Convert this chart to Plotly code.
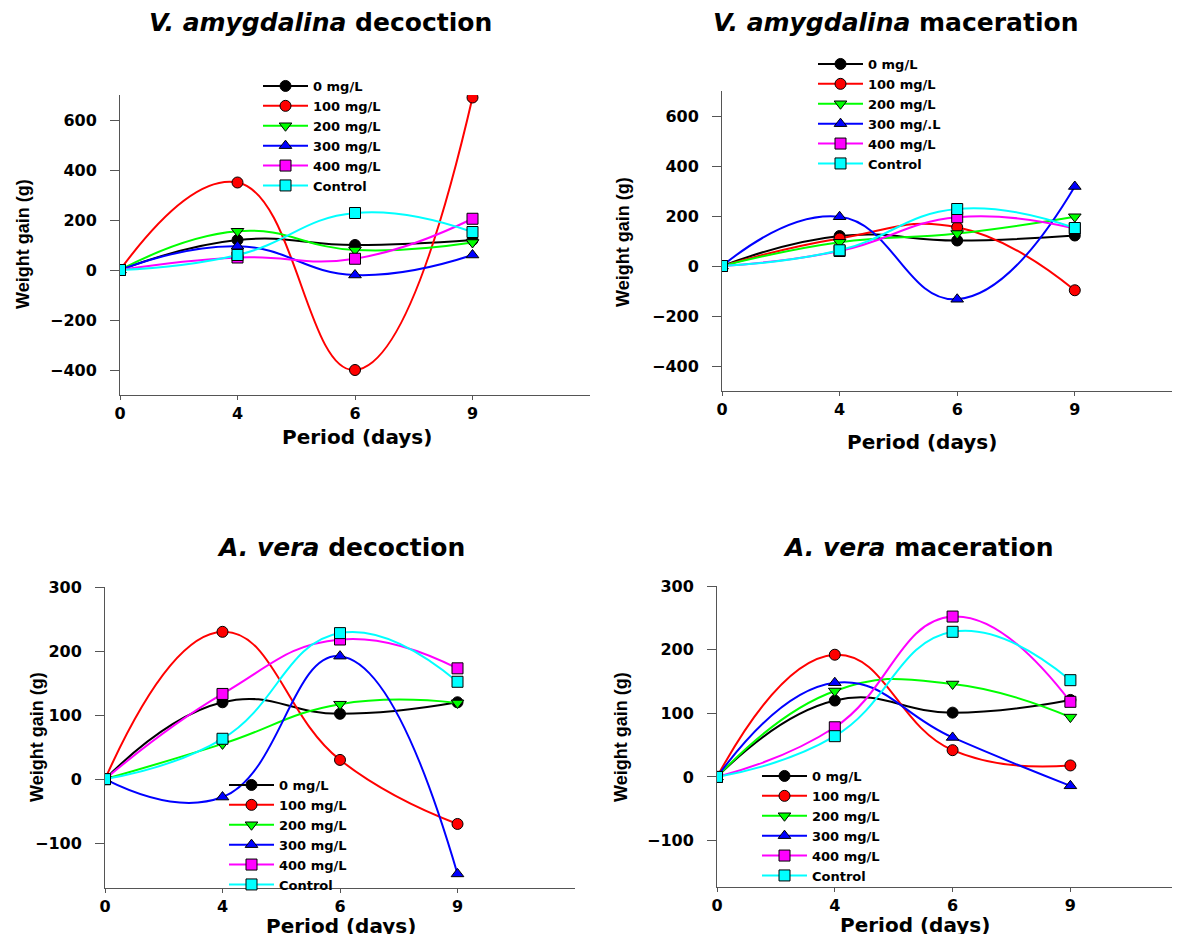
import plotly.graph_objects as go

W, H = 1180, 934
OFF = 8  # default page body margin of the written html

days = ["0", "4", "6", "9"]
series_names = ["0 mg/L", "100 mg/L", "200 mg/L", "300 mg/L", "400 mg/L", "Control"]
series_names_p2 = ["0 mg/L", "100 mg/L", "200 mg/L", "300 mg/.L", "400 mg/L", "Control"]
colors = ["#000000", "#FF0000", "#00FF00", "#0000FF", "#FF00FF", "#00FFFF"]
symbols = ["circle", "circle", "triangle-down", "triangle-up", "square", "square"]

# Panel 1: V. amygdalina decoction
va_dec = [
    [0, 120, 100, 120],
    [0, 350, -400, 690],
    [0, 155, 80, 110],
    [0, 95, -20, 60],
    [0, 50, 45, 205],
    [0, 60, 228, 152],
]
# Panel 2: V. amygdalina maceration
va_mac = [
    [0, 120, 102, 122],
    [0, 110, 155, -97],
    [0, 95, 130, 197],
    [0, 197, -133, 318],
    [0, 60, 195, 150],
    [0, 63, 228, 152],
]
# Panel 3: A. vera decoction
av_dec = [
    [0, 120, 102, 120],
    [0, 230, 30, -70],
    [0, 55, 117, 119],
    [0, -28, 192, -148],
    [0, 133, 218, 173],
    [0, 63, 228, 152],
]
# Panel 4: A. vera maceration
av_mac = [
    [0, 120, 101, 121],
    [0, 192, 42, 18],
    [0, 135, 146, 94],
    [0, 148, 62, -14],
    [0, 78, 252, 118],
    [0, 64, 228, 152],
]

titles = [
    "<i>V. amygdalina</i> decoction",
    "<i>V. amygdalina</i> maceration",
    "<i>A. vera</i> decoction",
    "<i>A. vera</i> maceration",
]
xlabel = "Period (days)"
ylabel = "Weight gain (g)"
ticks_top = [-400, -200, 0, 200, 400, 600]
ticks_bot = [-100, 0, 100, 200, 300]

panels = [va_dec, va_mac, av_dec, av_mac]
names_per_panel = [series_names, series_names_p2, series_names, series_names]


def fx(px):
    return (px - OFF) / W


def fy(py):
    return (H - (py - OFF)) / H


# screen-pixel geometry: (x0, x1, y_top, y_bottom, xrange_end, yrange, ticks)
geom = [
    (120, 590, 95, 395, 4.0, [-500, 700], ticks_top),
    (722, 1188, 91, 391, (1188 - 722) / 117.6, [-500, 700], ticks_top),
    (105, 575, 587, 888, 4.0, [-170, 300], ticks_bot),
    (717, 1188, 586, 887, (1188 - 717) / 117.8, [-173, 300], ticks_bot),
]
legend_pos = [(258, 71), (813, 49), (224, 770), (757, 761)]
title_pos = [(320, 22), (895, 22), (341, 548), (918, 548)]
xlab_pos = [(357, 437), (922, 442), (341, 926), (915, 925)]
ylab_pos = [(23, 244), (623, 242), (37, 737), (621, 737)]

FONT = "DejaVu Sans"

fig = go.Figure()
for p, data in enumerate(panels):
    ax = "" if p == 0 else str(p + 1)
    lg = "legend" if p == 0 else f"legend{p + 1}"
    for i, vals in enumerate(data):
        fig.add_trace(go.Scatter(
            x=days, y=vals, name=names_per_panel[p][i],
            mode="lines+markers",
            line=dict(color=colors[i], width=2, shape="spline", smoothing=1.3),
            marker=dict(symbol=symbols[i], size=11, color=colors[i],
                        line=dict(color="black", width=1)),
            xaxis="x" + ax, yaxis="y" + ax, legend=lg,
        ))

layout = dict(
    width=W, height=H,
    margin=dict(l=0, r=0, t=0, b=0, autoexpand=False),
    paper_bgcolor="white", plot_bgcolor="white",
    font=dict(family=FONT, color="black"),
    annotations=[],
)

tickfont = dict(family=FONT, size=16, color="black", weight="bold")
for p, (x0, x1, yt, yb, xend, yr, tv) in enumerate(geom):
    ax = "" if p == 0 else str(p + 1)
    layout["xaxis" + ax] = dict(
        domain=[fx(x0), min(1.0, fx(x1))], anchor="y" + ax, type="category",
        range=[0, xend], showgrid=False, zeroline=False, showline=True,
        linecolor="#555555", linewidth=1, ticks="outside", ticklen=4,
        tickcolor="#555555", tickfont=tickfont, automargin=False,
    )
    layout["yaxis" + ax] = dict(
        domain=[fy(yb), fy(yt)], anchor="x" + ax,
        range=yr, showgrid=False, zeroline=False, showline=True,
        linecolor="#555555", linewidth=1, ticks="outside", ticklen=9,
        tickcolor="#555555", tickvals=tv, tickfont=tickfont, automargin=False,
        ticklabelstandoff=10,
    )
    lx, ly = legend_pos[p]
    lg = "legend" if p == 0 else f"legend{p + 1}"
    layout[lg] = dict(
        x=fx(lx), y=fy(ly), xanchor="left", yanchor="top",
        bgcolor="rgba(0,0,0,0)", borderwidth=0,
        font=dict(family=FONT, size=13, color="black", weight="bold"),
        itemwidth=45, tracegroupgap=0,
    )
    tx, ty = title_pos[p]
    layout["annotations"].append(dict(
        text=titles[p], x=fx(tx), y=fy(ty), xref="paper", yref="paper",
        showarrow=False, xanchor="center", yanchor="middle",
        font=dict(family=FONT, size=25, color="black", weight="bold"),
    ))
    bx, by = xlab_pos[p]
    layout["annotations"].append(dict(
        text=xlabel, x=fx(bx), y=fy(by), xref="paper", yref="paper",
        showarrow=False, xanchor="center", yanchor="middle",
        font=dict(family=FONT, size=20, color="black", weight="bold"),
    ))
    cx, cy = ylab_pos[p]
    layout["annotations"].append(dict(
        text=ylabel, x=fx(cx), y=fy(cy), xref="paper", yref="paper",
        showarrow=False, xanchor="center", yanchor="middle", textangle=-90,
        font=dict(family="Liberation Sans, Arial, sans-serif",
                  size=18, color="black", weight="bold"),
    ))

fig.update_layout(**layout)
fig.write_html("out.html")
